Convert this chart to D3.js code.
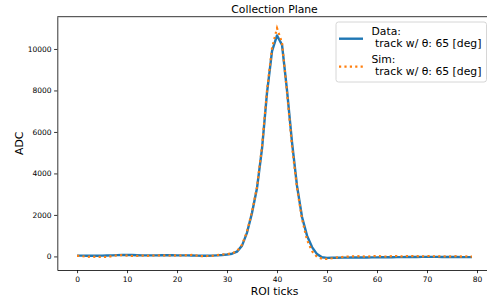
<!DOCTYPE html>
<html>
<head>
<meta charset="utf-8">
<script src="https://cdn.jsdelivr.net/npm/d3@7"></script>
<style>
  body { margin: 0; background: #fff; }
  text { font-family: "DejaVu Sans", sans-serif; fill: #000; }
</style>
</head>
<body>
<svg id="chart"></svg>
<script>
// ROI tick index 0..79
const ticks = d3.range(80);

const dataAdc = [
  40, 38, 35, 33, 35, 38, 42, 50, 60, 70,
  72, 65, 55, 50, 48, 50, 52, 55, 57, 55,
  52, 50, 48, 45, 40, 35, 35, 40, 50, 65,
  90, 130, 230, 520, 1150, 2100, 3300, 5200, 7900, 9900,
  10650, 10200, 8000, 5500, 3400, 1900, 1000, 450, 110, -40,
  -70, -65, -62, -60, -58, -56, -55, -52, -50, -48,
  -45, -42, -40, -38, -35, -32, -30, -28, -25, -22,
  -20, -20, -22, -25, -28, -30, -30, -32, -32, -32
];

// Simulated waveform
const simAdc = [
  30, 10, -20, -10, -30, -20, -30, 20, 50, 60,
  40, 20, 30, 40, 30, 40, 50, 40, 50, 30,
  50, 40, 60, 70, 40, 10, 20, 30, 60, 90,
  110, 150, 250, 560, 1200, 2150, 3350, 5300, 8000, 10050,
  11000, 10300, 7900, 5300, 3300, 1800, 800, 250, -20, -110,
  -120, -90, -50, -30, -10, 0, 10, 0, -10, 10,
  20, 0, -10, 10, 20, 0, 10, 20, 10, 0,
  20, 10, 0, 10, -10, 0, 10, -10, 0, -10
];

const xTicks = [0, 10, 20, 30, 40, 50, 60, 70, 80];
const yTicks = [0, 2000, 4000, 6000, 8000, 10000];
const legendLabels = ["Data:\n track w/ θ: 65 [deg]", "Sim:\n track w/ θ: 65 [deg]"];

const W = 487, H = 307;
const plot = {left: 57.3, right: 491.75, top: 16.7, bottom: 270};

const svg = d3.select("#chart")
    .attr("width", W)
    .attr("height", H);

const x = d3.scaleLinear()
    .domain([-3.95, 82.95])
    .range([plot.left, plot.right]);

const y = d3.scaleLinear()
    .domain([-655, 11555])
    .range([plot.bottom, plot.top]);

// Axes
const xAxis = svg.append("g")
    .attr("transform", `translate(0,${plot.bottom})`)
    .call(d3.axisBottom(x).tickValues(xTicks).tickSize(3.2).tickPadding(3).tickSizeOuter(0));

const yAxis = svg.append("g")
    .attr("transform", `translate(${plot.left},0)`)
    .call(d3.axisLeft(y).tickValues(yTicks).tickFormat(d3.format("d")).tickSize(3.2).tickPadding(2.5).tickSizeOuter(0));

[xAxis, yAxis].forEach(a => {
  a.selectAll("text").style("font-size", "7.5px").style("font-family", "DejaVu Sans").attr("fill", "#000");
  a.selectAll(".tick line").attr("stroke", "#000").attr("stroke-width", 0.8);
  a.select(".domain").attr("stroke", "#000").attr("stroke-width", 0.8);
});

// top & right spines
svg.append("line")
    .attr("x1", plot.left).attr("x2", plot.right)
    .attr("y1", plot.top).attr("y2", plot.top)
    .attr("stroke", "#000").attr("stroke-width", 0.8);
svg.append("line")
    .attr("x1", plot.right).attr("x2", plot.right)
    .attr("y1", plot.top).attr("y2", plot.bottom)
    .attr("stroke", "#000").attr("stroke-width", 0.8);

// Lines
const line = d3.line()
    .x((d, i) => x(ticks[i]))
    .y(d => y(d));

svg.append("path")
    .datum(dataAdc)
    .attr("d", line)
    .attr("fill", "none")
    .attr("stroke", "#1f77b4")
    .attr("stroke-width", 2.4)
    .attr("stroke-linejoin", "round");

svg.append("path")
    .datum(simAdc)
    .attr("d", line)
    .attr("fill", "none")
    .attr("stroke", "#ff7f0e")
    .attr("stroke-width", 2.2)
    .attr("stroke-dasharray", "2.2,3.2");

// Title and axis labels
svg.append("text")
    .attr("x", (plot.left + plot.right) / 2)
    .attr("y", 12.5)
    .attr("text-anchor", "middle")
    .style("font-size", "10.8px")
    .text("Collection Plane");

svg.append("text")
    .attr("text-anchor", "middle")
    .attr("transform", `translate(${(plot.left + plot.right) / 2},295)`)
    .style("font-size", "10.8px")
    .text("ROI ticks");

svg.append("text")
    .attr("text-anchor", "middle")
    .attr("transform", `translate(23,${(plot.top + plot.bottom) / 2}) rotate(-90)`)
    .style("font-size", "10.8px")
    .text("ADC");

// Legend
const legend = svg.append("g").attr("transform", "translate(336,22)");
legend.append("rect")
    .attr("width", 150.5)
    .attr("height", 60)
    .attr("rx", 2.5)
    .attr("fill", "#fff")
    .attr("fill-opacity", 0.8)
    .attr("stroke", "#ccc")
    .attr("stroke-width", 0.8);

const styles = [
  {color: "#1f77b4", width: 2.4, dash: null},
  {color: "#ff7f0e", width: 2.2, dash: "2.2,3.2"}
];

const entry = legend.selectAll(".entry")
    .data(legendLabels)
    .enter()
    .append("g")
    .attr("transform", (d, i) => `translate(0,${i * 28})`);

entry.append("line")
    .attr("x1", 3).attr("x2", 27)
    .attr("y1", 16.7).attr("y2", 16.7)
    .attr("stroke", (d, i) => styles[i].color)
    .attr("stroke-width", (d, i) => styles[i].width)
    .attr("stroke-dasharray", (d, i) => styles[i].dash);

entry.append("text")
    .style("font-size", "10.8px")
    .attr("xml:space", "preserve")
    .selectAll("tspan")
    .data(d => d.split("\n"))
    .enter()
    .append("tspan")
    .attr("x", 35.5)
    .attr("y", (d, i) => 13 + i * 12.3)
    .style("white-space", "pre")
    .text(d => d);
</script>
</body>
</html>
